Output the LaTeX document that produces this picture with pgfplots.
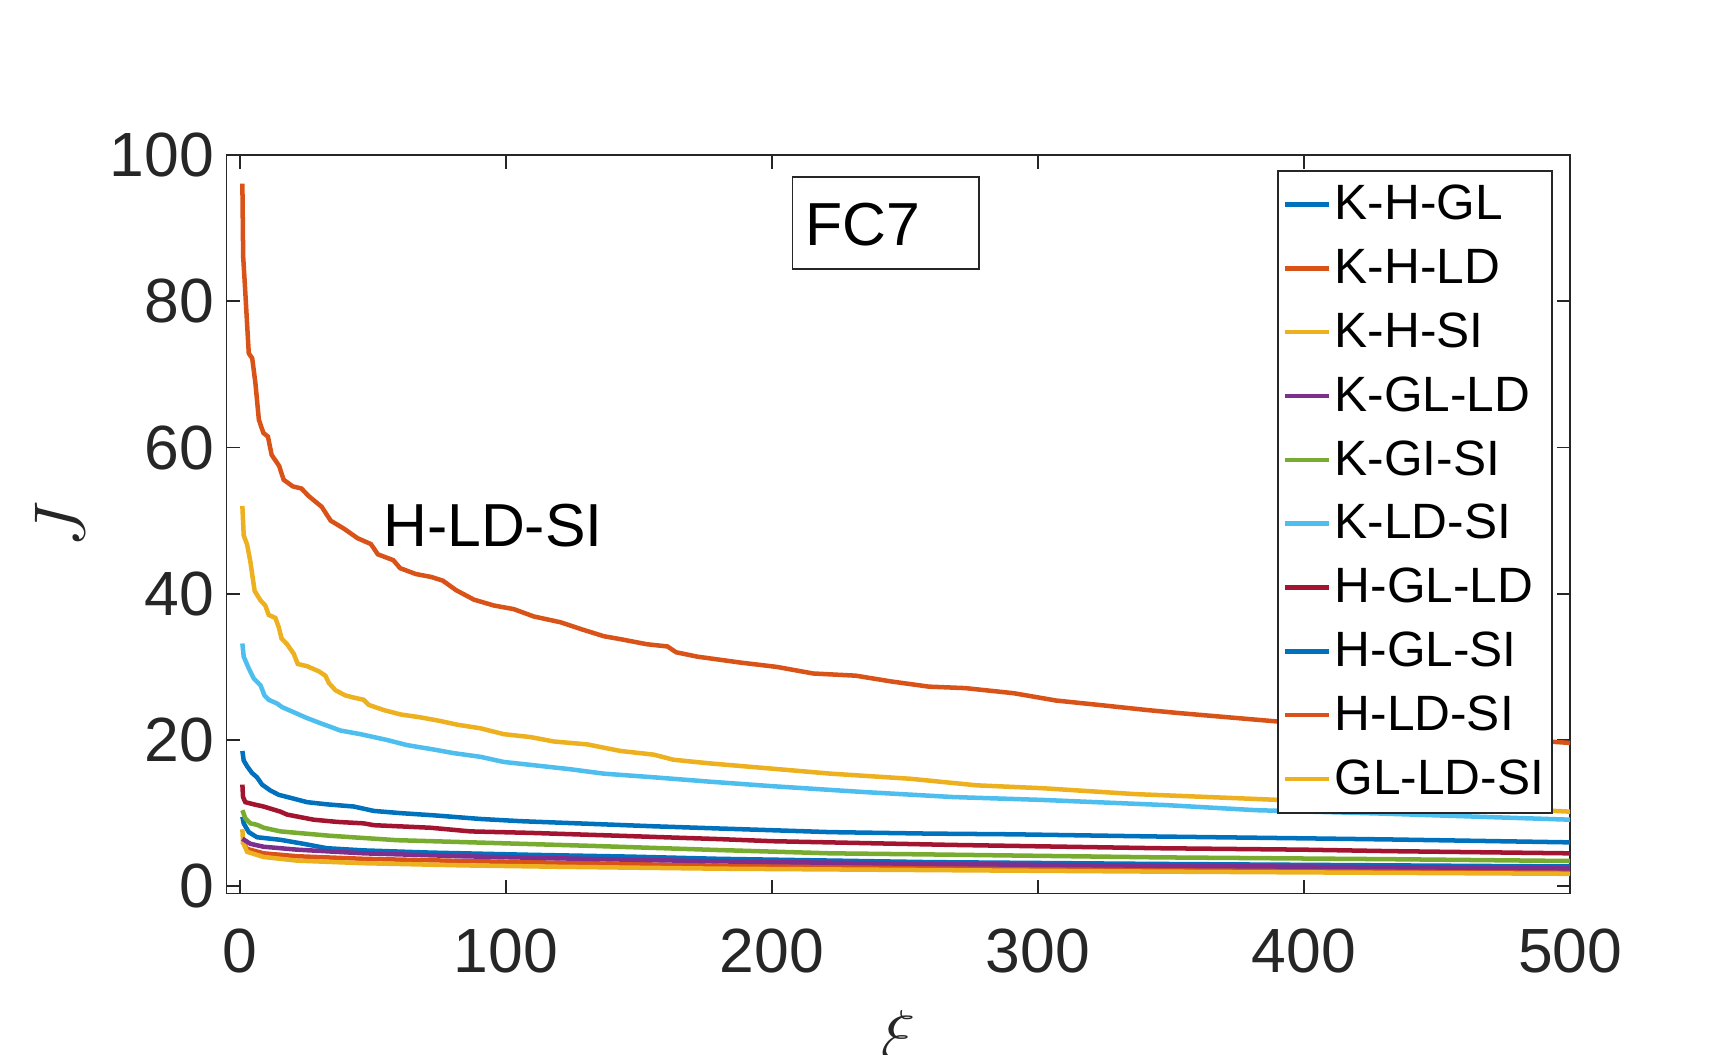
\documentclass[border=0pt]{standalone}
\usepackage{pgfplots}
\pgfplotsset{compat=1.18}
\usepackage{fontspec}
\setmainfont{Liberation Sans}
\definecolor{c1}{rgb}{0,0.447,0.741}
\definecolor{c2}{rgb}{0.850,0.325,0.098}
\definecolor{c3}{rgb}{0.929,0.694,0.125}
\definecolor{c4}{rgb}{0.494,0.184,0.556}
\definecolor{c5}{rgb}{0.466,0.674,0.188}
\definecolor{c6}{rgb}{0.301,0.745,0.933}
\definecolor{c7}{rgb}{0.635,0.078,0.184}
\definecolor{axgray}{RGB}{38,38,38}
\begin{document}
\begin{tikzpicture}
\useasboundingbox (-65.25pt,-46.3pt) rectangle (434.75pt,257.5pt);
\begin{axis}[
  scale only axis, width=387.25pt, height=212.8pt,
  xmin=-5, xmax=500, ymin=-1, ymax=100,
  xtick={0,100,...,500}, ytick={0,20,...,100},
  tick align=inside, major tick length=3.9pt,
  axis line style={axgray, line width=0.5pt},
  tick style={axgray, line width=0.5pt},
  tick label style={font=\fontsize{18}{21}\selectfont, text=axgray},
  /pgf/number format/assume math mode=true,
  xticklabel style={yshift=-6.6pt},
  xlabel={$\xi$}, ylabel={$J$},
  label style={font=\fontsize{20}{24}\selectfont, text=axgray},
  xlabel style={at={(axis description cs:0.5,-0.158)}, anchor=north, inner sep=0pt},
  ylabel style={at={(axis description cs:-0.1242,0.5)}, anchor=center, inner sep=0pt},
  legend cell align=left,
  legend image code/.code={\draw[#1, line width=1.3pt] (0pt,0pt) -- (12.8pt,0pt);},
  legend style={at={(rel axis cs:0.987,0.980)}, anchor=north east,
    draw=axgray, line width=0.5pt, fill=white, text=black,
    font=\fontsize{14.3}{17}\selectfont,
    inner xsep=1.2pt, inner ysep=0.5pt, row sep=0pt,
    nodes={inner xsep=1pt, inner ysep=0pt, text height=13.6pt, text depth=4.8pt}},
  every axis plot/.append style={line width=1.3pt},
]
% K-H-GL
\addplot[c1] coordinates {(1,9.5) (1.5,8.6) (3.4,7.4) (6.5,6.7) (15.3,6.35) (24,5.8) (32.8,5.2) (46.6,4.9) (71.7,4.6) (109,4.3) (147,4.05) (180,3.75) (259,3.3) (345,3.05) (500,2.7)};
\addlegendentry{K-H-GL}
% K-H-LD
\addplot[c2] coordinates {(1,6.1) (2.8,5.1) (9,4.5) (21.6,4.1) (46.6,3.75) (84,3.45) (122,3.2) (180,2.8) (345,2.4) (500,2.1)};
\addlegendentry{K-H-LD}
% K-H-SI
\addplot[c3] coordinates {(1,7.8) (1.25,6.0) (2.8,4.7) (9,4.0) (21.6,3.5) (46.6,3.15) (84,2.85) (122,2.65) (180,2.4) (345,2.0) (500,1.7)};
\addlegendentry{K-H-SI}
% K-GL-LD
\addplot[c4] coordinates {(1,6.5) (4,5.8) (9,5.4) (21.6,5.0) (46.6,4.5) (84,4.1) (122,3.8) (180,3.4) (259,3.05) (345,2.8) (500,2.45)};
\addlegendentry{K-GL-LD}
% K-GI-SI
\addplot[c5] coordinates {(1,10.4) (2.1,9.3) (4,8.6) (6.5,8.4) (9,8.0) (15.3,7.5) (34,6.9) (59,6.3) (96.7,5.9) (134,5.5) (180,4.95) (222,4.5) (259,4.35) (345,3.95) (432,3.7) (500,3.45)};
\addlegendentry{K-GI-SI}
% K-LD-SI
\addplot[c6] coordinates {(1,33.2) (1.5,31.4) (3.4,29.8) (5.3,28.4) (7.8,27.5) (9.3,26.1) (10.9,25.5) (14,25) (15.9,24.5) (20.3,23.8) (25.3,23) (30.3,22.3) (34.1,21.8) (37.8,21.3) (45.4,20.8) (55.4,20) (62.9,19.3) (72.9,18.7) (80.5,18.2) (90.5,17.7) (99.2,17) (111.8,16.5) (124.3,16) (136.8,15.4) (155.6,14.9) (176.7,14.3) (199.5,13.7) (233.8,12.9) (268,12.2) (302,11.8) (348,11.1) (382,10.4) (428,9.95) (500,9.1)};
\addlegendentry{K-LD-SI}
% H-GL-LD
\addplot[c7] coordinates {(1,13.9) (1.25,12.2) (2.1,11.5) (5.3,11.2) (9,10.9) (15.3,10.2) (17.8,9.8) (27.8,9.1) (36.6,8.8) (46.6,8.6) (50.4,8.35) (71.7,8.0) (86.7,7.5) (109,7.3) (143,6.9) (180,6.45) (200,6.16) (268,5.65) (345,5.2) (400,5.0) (432,4.8) (500,4.5)};
\addlegendentry{H-GL-LD}
% H-GL-SI
\addplot[c1] coordinates {(1,18.5) (1.5,17.2) (2.8,16.4) (4.6,15.5) (6.5,14.9) (8.4,13.9) (11.5,13.1) (14.7,12.5) (19,12.1) (25.3,11.5) (32.8,11.2) (42.9,10.9) (50.4,10.3) (60.4,10) (72.9,9.7) (90.5,9.2) (105.5,8.9) (130.6,8.55) (155.6,8.2) (180,7.9) (222,7.4) (259,7.2) (291,7.1) (345,6.8) (400,6.55) (432,6.4) (500,6.0)};
\addlegendentry{H-GL-SI}
% H-LD-SI
\addplot[c2] coordinates {(1,96.1) (1.3,86.1) (1.9,82.5) (3.4,72.9) (4.7,72.2) (5.9,68.8) (7.2,63.8) (8.9,62) (10.6,61.5) (12,59) (14.8,57.5) (16.5,55.6) (19.9,54.7) (23.2,54.4) (25.8,53.4) (30.8,51.9) (34.2,50) (39.2,48.9) (44.3,47.6) (49.3,46.8) (51.9,45.4) (57.7,44.6) (60.3,43.5) (66.2,42.7) (72,42.3) (76.3,41.8) (81.3,40.5) (88,39.2) (95.5,38.4) (103,37.9) (110.5,36.9) (120.6,36.1) (128,35.2) (136.8,34.2) (143,33.8) (153,33.1) (160.7,32.8) (164,32) (172,31.4) (188,30.6) (201.8,30) (215.5,29.1) (231.5,28.8) (245,28) (259,27.3) (272.6,27.1) (290.9,26.4) (306.8,25.4) (322.8,24.8) (341,24.1) (352.5,23.7) (368.5,23.2) (391,22.5) (420,21.6) (450,20.8) (475,20.2) (500,19.6)};
\addlegendentry{H-LD-SI}
% GL-LD-SI
\addplot[c3] coordinates {(1,52) (1.5,48) (2.8,46.7) (4,44.4) (5.6,40.4) (7.8,39.1) (9.6,38.4) (10.9,37.1) (13.4,36.7) (14.7,35.4) (15.7,33.9) (17.8,33.1) (20.3,31.8) (21.8,30.4) (25.3,30.1) (29.7,29.4) (32.2,28.8) (33.5,27.8) (36,26.8) (39.7,26.1) (42.9,25.8) (46.6,25.5) (48.5,24.8) (54.1,24.1) (60.4,23.5) (67.9,23.1) (75.4,22.6) (81.7,22.1) (90.5,21.6) (99.2,20.8) (109.3,20.4) (118,19.8) (130.6,19.4) (143.1,18.5) (155.6,18) (163,17.3) (176.7,16.8) (199.5,16.1) (222,15.4) (252,14.7) (277,13.8) (302,13.4) (336.5,12.6) (370.8,12.1) (391,11.8) (430,11.2) (470,10.7) (500,10.2)};
\addlegendentry{GL-LD-SI}
% annotations
\draw[axgray, line width=0.5pt] (axis cs:207.7,84.4) rectangle (axis cs:277.7,97.0);
\node[anchor=base west, inner sep=0pt, font=\fontsize{17.5}{21}\selectfont] at (axis cs:212.3,87.7) {FC7};
\node[anchor=base west, inner sep=0pt, font=\fontsize{17.5}{21}\selectfont] at (axis cs:53.7,46.4) {H-LD-SI};
\end{axis}
\end{tikzpicture}
\end{document}
